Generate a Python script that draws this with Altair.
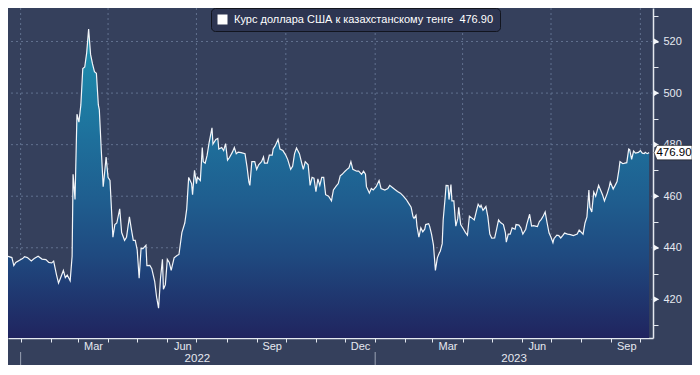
import altair as alt
import pandas as pd

# ---------------- data ----------------
series_name = "Курс доллара США к казахстанскому тенге"

dates = [
    "2021-12-19", "2021-12-23", "2021-12-25", "2021-12-27", "2022-01-03", "2022-01-05",
    "2022-01-08", "2022-01-12", "2022-01-15", "2022-01-19", "2022-01-23", "2022-01-27",
    "2022-01-30", "2022-02-02", "2022-02-04", "2022-02-07", "2022-02-09", "2022-02-11",
    "2022-02-14", "2022-02-16", "2022-02-18", "2022-02-21", "2022-02-23", "2022-02-24",
    "2022-02-26", "2022-02-28", "2022-03-02", "2022-03-04", "2022-03-06", "2022-03-08",
    "2022-03-10", "2022-03-12", "2022-03-14", "2022-03-16", "2022-03-18", "2022-03-20",
    "2022-03-22", "2022-03-23", "2022-03-25", "2022-03-27", "2022-03-28", "2022-03-30",
    "2022-04-01", "2022-04-03", "2022-04-06", "2022-04-08", "2022-04-10", "2022-04-13",
    "2022-04-15", "2022-04-18", "2022-04-20", "2022-04-23", "2022-04-25", "2022-04-27",
    "2022-04-29", "2022-05-01", "2022-05-03", "2022-05-05", "2022-05-07", "2022-05-10",
    "2022-05-11", "2022-05-14", "2022-05-16", "2022-05-19", "2022-05-21", "2022-05-23",
    "2022-05-25", "2022-05-27", "2022-05-28", "2022-05-30", "2022-06-01", "2022-06-03",
    "2022-06-05", "2022-06-08", "2022-06-11", "2022-06-13", "2022-06-16", "2022-06-19",
    "2022-06-21", "2022-06-23", "2022-06-26", "2022-06-27", "2022-06-29", "2022-07-01",
    "2022-07-02", "2022-07-05", "2022-07-07", "2022-07-08", "2022-07-10", "2022-07-12",
    "2022-07-14", "2022-07-17", "2022-07-18", "2022-07-21", "2022-07-23", "2022-07-24",
    "2022-07-27", "2022-07-29", "2022-07-31", "2022-08-02", "2022-08-04", "2022-08-07",
    "2022-08-09", "2022-08-11", "2022-08-13", "2022-08-16", "2022-08-20", "2022-08-22",
    "2022-08-24", "2022-08-25", "2022-08-27", "2022-08-30", "2022-09-01", "2022-09-03",
    "2022-09-06", "2022-09-08", "2022-09-09", "2022-09-12", "2022-09-14", "2022-09-17",
    "2022-09-18", "2022-09-20", "2022-09-23", "2022-09-25", "2022-09-28", "2022-10-01",
    "2022-10-03", "2022-10-06", "2022-10-08", "2022-10-10", "2022-10-12", "2022-10-15",
    "2022-10-17", "2022-10-19", "2022-10-21", "2022-10-24", "2022-10-26", "2022-10-28",
    "2022-10-30", "2022-11-01", "2022-11-03", "2022-11-05", "2022-11-07", "2022-11-09",
    "2022-11-11", "2022-11-14", "2022-11-17", "2022-11-19", "2022-11-22", "2022-11-24",
    "2022-11-26", "2022-11-28", "2022-12-01", "2022-12-03", "2022-12-05", "2022-12-07",
    "2022-12-09", "2022-12-13", "2022-12-15", "2022-12-18", "2022-12-20", "2022-12-22",
    "2022-12-23", "2022-12-26", "2022-12-28", "2022-12-30", "2023-01-02", "2023-01-05",
    "2023-01-07", "2023-01-11", "2023-01-14", "2023-01-16", "2023-01-20", "2023-01-24",
    "2023-01-27", "2023-01-30", "2023-02-02", "2023-02-04", "2023-02-07", "2023-02-09",
    "2023-02-10", "2023-02-12", "2023-02-13", "2023-02-15", "2023-02-17", "2023-02-19",
    "2023-02-21", "2023-02-22", "2023-02-25", "2023-02-26", "2023-02-28", "2023-03-02",
    "2023-03-03", "2023-03-04", "2023-03-06", "2023-03-08", "2023-03-09", "2023-03-11",
    "2023-03-12", "2023-03-14", "2023-03-15", "2023-03-17", "2023-03-18", "2023-03-20",
    "2023-03-21", "2023-03-23", "2023-03-25", "2023-03-27", "2023-03-28", "2023-03-30",
    "2023-04-02", "2023-04-04", "2023-04-06", "2023-04-08", "2023-04-11", "2023-04-13",
    "2023-04-15", "2023-04-17", "2023-04-19", "2023-04-20", "2023-04-22", "2023-04-25",
    "2023-04-27", "2023-04-29", "2023-05-01", "2023-05-04", "2023-05-06", "2023-05-08",
    "2023-05-10", "2023-05-13", "2023-05-15", "2023-05-16", "2023-05-18", "2023-05-20",
    "2023-05-22", "2023-05-25", "2023-05-26", "2023-05-29", "2023-05-31", "2023-06-02",
    "2023-06-05", "2023-06-06", "2023-06-09", "2023-06-11", "2023-06-13", "2023-06-15",
    "2023-06-17", "2023-06-19", "2023-06-21", "2023-06-23", "2023-06-25", "2023-06-27",
    "2023-06-29", "2023-07-01", "2023-07-03", "2023-07-04", "2023-07-07", "2023-07-09",
    "2023-07-11", "2023-07-13", "2023-07-15", "2023-07-18", "2023-07-21", "2023-07-24",
    "2023-07-28", "2023-07-30", "2023-08-03", "2023-08-05", "2023-08-07", "2023-08-09",
    "2023-08-10", "2023-08-12", "2023-08-14", "2023-08-16", "2023-08-19", "2023-08-21",
    "2023-08-23", "2023-08-25", "2023-08-28", "2023-08-30", "2023-08-31", "2023-09-03",
    "2023-09-05", "2023-09-07", "2023-09-09", "2023-09-10", "2023-09-13", "2023-09-15",
    "2023-09-17", "2023-09-19", "2023-09-20", "2023-09-22", "2023-09-24", "2023-09-26",
    "2023-09-29", "2023-10-01", "2023-10-03", "2023-10-05", "2023-10-06", "2023-10-08",
    "2023-10-10",
]

values = [
    436.7, 436.2, 433.1, 434.3, 435.8, 436.5,
    436.2, 434.9, 435.8, 436.7, 435.6, 435.4,
    434.3, 434.1, 434.8, 429.4, 426.3, 428.2,
    431.2, 428.4, 429.4, 427.2, 436.7, 468.5,
    458.7, 491.8, 488.7, 495.4, 509.5, 510.1,
    515.6, 524.8, 515.0, 511.3, 508.3, 507.7,
    495.4, 493.6, 478.0, 463.7, 467.3, 475.2,
    467.3, 466.1, 444.1, 449.0, 449.6, 455.1,
    445.9, 442.9, 444.1, 452.0, 447.2, 442.9,
    442.9, 439.2, 428.2, 439.8, 439.7, 441.0,
    433.1, 433.2, 431.9, 427.0, 420.8, 416.6,
    428.2, 435.5, 423.9, 425.7, 435.5, 434.3,
    431.2, 436.1, 437.0, 437.4, 445.9, 449.6,
    455.1, 467.3, 464.9, 460.6, 470.0, 464.9,
    467.3, 466.1, 478.9, 473.4, 472.8, 475.9,
    480.7, 486.5, 480.2, 482.0, 482.4, 478.3,
    478.9, 477.7, 480.4, 474.0, 475.0, 477.1,
    478.9, 476.5, 477.1, 476.9, 476.5, 471.6,
    465.5, 464.2, 473.4, 473.4, 470.4, 472.2,
    473.4, 475.2, 472.8, 472.8, 475.9, 475.9,
    478.3, 479.5, 482.0, 478.3, 477.7, 475.9,
    474.2, 470.4, 471.6, 476.5, 478.7, 476.5,
    473.4, 470.4, 473.4, 472.2, 464.2, 467.3,
    467.0, 461.8, 466.7, 464.2, 467.3, 467.3,
    460.6, 460.0, 458.2, 462.4, 464.0, 464.9,
    467.9, 468.5, 469.7, 470.4, 471.0, 473.4,
    470.4, 469.7, 469.7, 468.5, 469.7, 468.5,
    463.7, 461.2, 463.0, 462.4, 463.7, 466.1,
    463.0, 462.4, 463.0, 464.2, 463.0, 461.8,
    461.2, 460.0, 458.7, 457.5, 455.7, 452.0,
    451.4, 452.6, 448.4, 444.1, 447.7, 446.2,
    447.2, 449.0, 449.3, 448.4, 445.3, 441.0,
    436.1, 431.2, 436.1, 438.0, 438.6, 441.6,
    450.8, 459.4, 464.2, 464.1, 458.7, 464.5,
    458.2, 458.2, 448.4, 451.4, 455.7, 449.0,
    447.2, 445.9, 444.9, 452.3, 451.4, 450.8,
    453.9, 456.9, 455.7, 456.5, 454.5, 456.0,
    452.0, 445.3, 443.7, 443.8, 447.2, 450.8,
    449.8, 449.0, 445.9, 442.2, 445.3, 445.3,
    447.7, 447.2, 449.0, 448.8, 447.7, 445.3,
    447.2, 449.0, 453.0, 448.4, 448.6, 448.4,
    448.2, 450.2, 451.0, 452.3, 453.9, 449.6,
    445.7, 444.1, 442.0, 443.5, 444.9, 444.7,
    443.8, 444.7, 445.7, 445.3, 445.1, 444.7,
    445.3, 446.9, 445.3, 449.6, 452.0, 462.4,
    455.7, 453.9, 461.6, 460.0, 464.2, 462.4,
    460.6, 458.2, 461.2, 463.7, 465.5, 462.8,
    464.2, 465.7, 470.4, 473.4, 472.6, 472.8,
    473.0, 478.3, 478.1, 474.3, 477.5, 476.7,
    477.0, 477.7, 476.7, 476.5, 477.0, 476.5,
    476.9,
]

y_major = [420, 440, 460, 480, 500, 520]
y_ticks = [410, 420, 430, 440, 450, 460, 470, 480, 490, 500, 510, 520, 530]
quarter_lines = ["2022-01-01", "2022-04-01", "2022-07-01", "2022-10-01",
                 "2023-01-01", "2023-04-01", "2023-07-01", "2023-10-01"]
month_ticks = pd.date_range("2022-01-01", "2023-10-01", freq="MS")
labelled_months = [2, 5, 8, 11]  # Mar, Jun, Sep, Dec (0-based months)
year_labels = ["2022", "2023"]
year_label_dates = ["2022-07-02", "2023-05-24"]
year_breaks = ["2022-01-01", "2023-01-01"]

# ---------------- styling ----------------
W, H = 645, 330
BG = "#35405c"
GRID = "#61708f"
AXIS = "#e4e8ef"
TXT = "#e6e9f0"
FONT = "Liberation Sans, Arial, sans-serif"

last_value = values[-1]

df = pd.DataFrame({"date": pd.to_datetime(dates), "value": values, "series": series_name})

x_scale = alt.Scale(domain=[alt.DateTime(year=2021, month=12, date=19),
                            alt.DateTime(year=2023, month=10, date=14)], nice=False)
y_scale = alt.Scale(domain=[405, 533], nice=False, zero=False)

x_axis = alt.Axis(
    values=[alt.DateTime(year=d.year, month=d.month, date=1) for d in month_ticks],
    title=None, grid=False, domainColor=AXIS, domainWidth=1.5,
    tickColor=AXIS, tickSize=4, tickWidth=1,
    labelExpr="indexof([" + ",".join(str(m) for m in labelled_months) +
              "], month(datum.value)) >= 0 ? timeFormat(datum.value, '%b') : ''",
    labelOffset=15, labelAlign="center", labelBaseline="top",
    labelColor=TXT, labelFont=FONT, labelFontSize=11, labelPadding=-2,
    labelOverlap=False, labelFlush=False, labelBound=False,
)
y_axis = alt.Axis(
    orient="right", values=y_ticks, title=None, grid=False,
    domainColor=AXIS, domainWidth=1.5, tickColor=AXIS, tickSize=5,
    labelExpr="datum.value % 20 == 0 ? datum.label : ''",
    labelPadding=5, labelColor=TXT, labelFont=FONT, labelFontSize=11,
    labelOverlap=False,
)

gradient = alt.Gradient(
    gradient="linear",
    stops=[
        alt.GradientStop(color="#1d93b1", offset=0),
        alt.GradientStop(color="#1e6f9b", offset=0.36),
        alt.GradientStop(color="#1f5e8f", offset=0.55),
        alt.GradientStop(color="#1f4a80", offset=0.73),
        alt.GradientStop(color="#20245f", offset=1),
    ],
    x1=1, x2=1, y1=0, y2=1,
)

X = lambda f: alt.X(f, scale=x_scale, axis=x_axis)
Y = lambda f: alt.Y(f, scale=y_scale, axis=y_axis)

hgrid = alt.Chart(pd.DataFrame({"v": y_major})).mark_rule(
    color=GRID, strokeDash=[2, 3], strokeWidth=1
).encode(y=Y("v:Q"))

vgrid = alt.Chart(pd.DataFrame({"d": pd.to_datetime(quarter_lines)})).mark_rule(
    color=GRID, strokeDash=[2, 3], strokeWidth=1
).encode(x=X("d:T"))

area = alt.Chart(df).mark_area(clip=True, color=gradient, opacity=1).encode(
    x=X("date:T"),
    y=Y("value:Q"),
    y2=alt.datum(405),
)

line = alt.Chart(df).mark_line(clip=True, strokeWidth=1.2).encode(
    x=X("date:T"),
    y=Y("value:Q"),
    color=alt.Color(
        "series:N",
        scale=alt.Scale(range=["#f2f5f9"]),
        legend=alt.Legend(
            title=None, orient="none", legendX=203, legendY=0,
            fillColor="#2d3551", strokeColor="#12151f", cornerRadius=4, padding=6,
            symbolType="square", symbolSize=100, symbolFillColor="#ffffff",
            symbolStrokeColor="#ffffff", symbolStrokeWidth=0,
            labelColor="#ffffff", labelFont=FONT, labelFontSize=11, labelOffset=6,
            labelLimit=400,
            labelExpr="datum.label + '\u00a0\u00a0" + f"{last_value:.2f}" + "'",
        ),
    ),
)

tri = alt.Chart(pd.DataFrame({"v": y_major})).mark_point(
    shape="triangle-right", filled=True, size=34, color="#f4f6fa", opacity=1
).encode(x=alt.value(W + 3.5), y=Y("v:Q"))

last_df = df.tail(1)
tag_box = alt.Chart(last_df).mark_point(
    shape="M-1,0 L-0.84,-0.38 L1,-0.38 L1,0.38 L-0.84,0.38 Z",
    size=1444, filled=True, fill="#ffffff", stroke="#1a1a1a", strokeWidth=0.6, opacity=1,
).encode(x=alt.value(W + 20), y=Y("value:Q"))

tag_text = alt.Chart(last_df).mark_text(
    color="#000000", font=FONT, fontSize=11.5, align="center", baseline="middle", dx=1
).encode(x=alt.value(W + 20), y=Y("value:Q"),
         text=alt.Text("value:Q", format=".2f"))

years = alt.Chart(pd.DataFrame({"d": pd.to_datetime(year_label_dates), "t": year_labels})).mark_text(
    color=TXT, font=FONT, fontSize=11.5, align="center", baseline="middle"
).encode(x=X("d:T"), y=alt.value(H + 21), text="t:N")

year_sep = alt.Chart(pd.DataFrame({"d": pd.to_datetime(year_breaks)})).mark_rule(
    color="#9aa2b4", strokeWidth=1
).encode(x=X("d:T"), y=alt.value(H + 14), y2=alt.value(H + 27))

chart = alt.layer(
    hgrid, vgrid, area, line, tri, tag_box, tag_text, years, year_sep
).properties(
    width=W, height=H, background=BG,
    padding={"left": 0, "top": 0, "right": 39, "bottom": 27},
    autosize=alt.AutoSizeParams(type="none"),
).configure_view(stroke=None)

chart.save("out.html", embed_options={"renderer": "svg", "actions": False})
